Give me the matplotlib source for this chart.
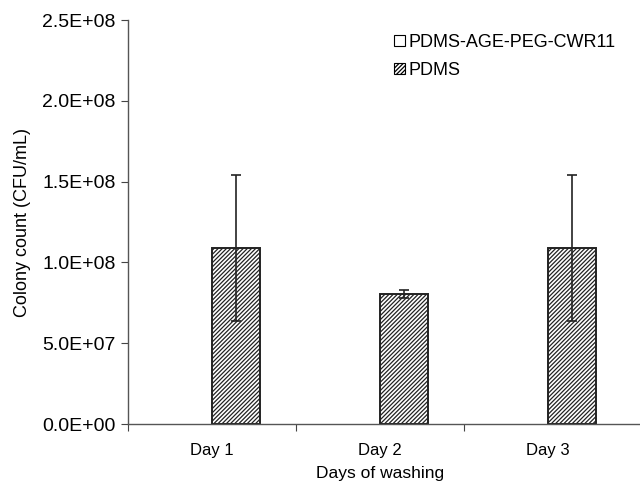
import matplotlib.pyplot as plt
from matplotlib.patches import Patch
from matplotlib.ticker import FuncFormatter

plt.rcParams['font.family'] = 'sans-serif'
plt.rcParams['font.sans-serif'] = ['Liberation Sans', 'DejaVu Sans']
plt.rcParams['hatch.linewidth'] = 0.9

# Daten
days = ['Day 1', 'Day 2', 'Day 3']
series_names = ['PDMS-AGE-PEG-CWR11', 'PDMS']
coated = [0, 0, 0]
coated_err = [0, 0, 0]
pdms = [1.09e8, 8.05e7, 1.09e8]
pdms_err = [4.5e7, 2.5e6, 4.5e7]

fig = plt.figure(figsize=(6.4, 4.82), dpi=100)
ax = fig.add_axes([0.2, 0.1203, 0.8, 0.8382])

w = 0.286
x = range(len(days))
# Werte sind 0, also praktisch unsichtbar
ax.bar([i - w / 2 for i in x], coated, w, color='white', edgecolor='black', linewidth=0)
ax.bar([i + w / 2 for i in x], pdms, w, color='white', edgecolor='#222222',
       hatch='////////', linewidth=1.4)
ax.errorbar([i + w / 2 for i in x], pdms, yerr=pdms_err, fmt='none',
            ecolor='#222222', elinewidth=1.2, capsize=3.5, capthick=1.2)

# Achse laeuft bis zum rechten Bildrand weiter
ax.set_xlim(-0.5, 2.548)
ax.set_ylim(0, 2.5e8)
ax.set_yticks([0, 5e7, 1e8, 1.5e8, 2e8, 2.5e8])
ax.yaxis.set_major_formatter(FuncFormatter(lambda v, p: f'{v:.1E}'))
ax.set_xticks([0, 1, 2])
ax.set_xticklabels(days)
ax.set_xticks([-0.5, 0.5, 1.5], minor=True)
ax.tick_params(axis='x', which='major', length=0, pad=14, labelsize=12)
ax.tick_params(axis='x', which='minor', length=5, width=0.8, color='#444444')
ax.tick_params(axis='y', length=5, width=0.8, color='#444444', labelsize=14, pad=4)

for s in ['top', 'right']:
    ax.spines[s].set_visible(False)
for s in ['left', 'bottom']:
    ax.spines[s].set_color('#555555')
    ax.spines[s].set_linewidth(1)

ax.set_ylabel('Colony count (CFU/mL)', fontsize=13, labelpad=8)
ax.set_xlabel('Days of washing', fontsize=12.5)
ax.xaxis.set_label_coords(0.492, -0.104)

handles = [Patch(facecolor='white', edgecolor='black', linewidth=0.8),
           Patch(facecolor='white', edgecolor='black', hatch='////////', linewidth=0.8)]
fig.legend(handles, series_names, loc='upper left', bbox_to_anchor=(385 / 640, 1 - 25 / 482),
           frameon=False, fontsize=13, handlelength=0.6, handleheight=0.6,
           handletextpad=0.2, labelspacing=0.6, borderpad=0)

fig.savefig('out.png', dpi=100)
